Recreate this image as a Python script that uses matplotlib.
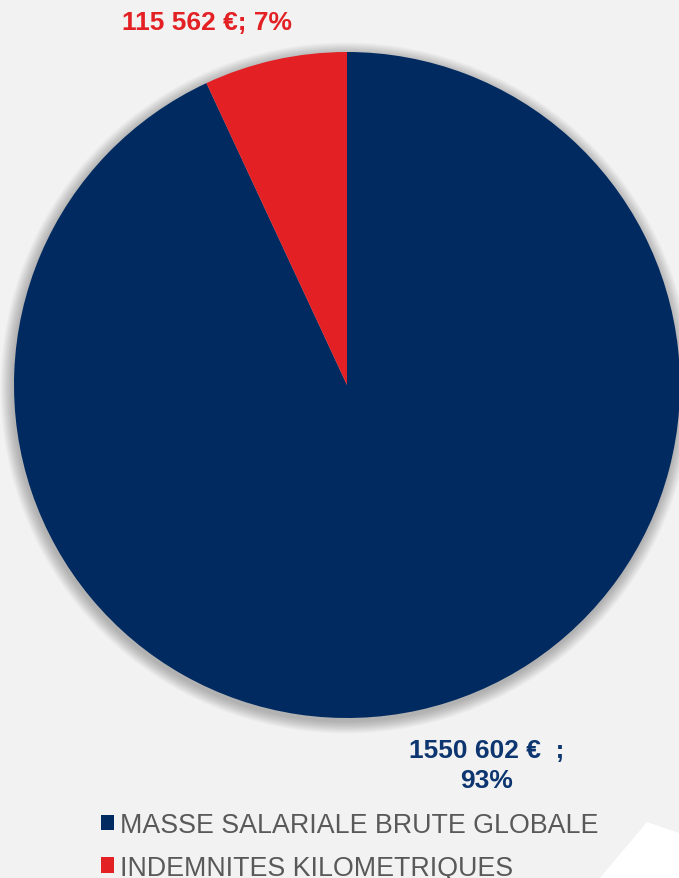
import matplotlib
matplotlib.use("Agg")
import matplotlib.pyplot as plt
from matplotlib.patches import Circle, Polygon

plt.rcParams['font.family'] = ['Liberation Sans', 'DejaVu Sans']

categories = ['MASSE SALARIALE BRUTE GLOBALE', 'INDEMNITES KILOMETRIQUES']
values = [1550602, 115562]
value_labels = ['1550 602 €  ;\n93%', '115 562 €; 7%']
colors = ['#002a60', '#e32024']
label_colors = ['#0d3570', '#e32024']

W, H = 679, 879
fig = plt.figure(figsize=(W / 100, H / 100), dpi=100)
fig.patch.set_facecolor('#f2f2f2')
ax = fig.add_axes([0, 0, 1, 1])

# white corner shape bottom right
ax.add_patch(Polygon([(600, 0), (647, H - 823), (W, H - 834), (W, 0)],
                     closed=True, facecolor='white', edgecolor='none', zorder=0))

cx, cy, r = 347, H - 386, 333

# soft shadow around the pie
for i in range(14, 0, -1):
    ax.add_patch(Circle((cx - 1, cy - 3), r + i * 0.9, facecolor='black',
                        edgecolor='none', alpha=0.018, zorder=1))

wedges, _ = ax.pie(values, colors=colors, startangle=90, counterclock=False,
                   center=(cx, cy), radius=r, frame=True,
                   wedgeprops=dict(linewidth=0, zorder=2))
ax.set_xlim(0, W)
ax.set_ylim(0, H)
ax.set_aspect('equal')
ax.axis('off')

ax.text(487, H - 766, value_labels[0], color=label_colors[0], fontsize=19,
        fontweight='bold', ha='center', va='center', linespacing=1.3)
ax.text(207, H - 23, value_labels[1], color=label_colors[1], fontsize=19,
        fontweight='bold', ha='center', va='center')

leg = ax.legend(wedges, categories, loc='upper left',
                bbox_to_anchor=(101 / W, 1 - 813 / H), frameon=False,
                fontsize=19.3, labelcolor='#595959', handlelength=0.5,
                handleheight=0.5, handletextpad=0.22, labelspacing=0.62,
                borderpad=0, borderaxespad=0)

fig.savefig('out.png', dpi=100, facecolor=fig.get_facecolor())
